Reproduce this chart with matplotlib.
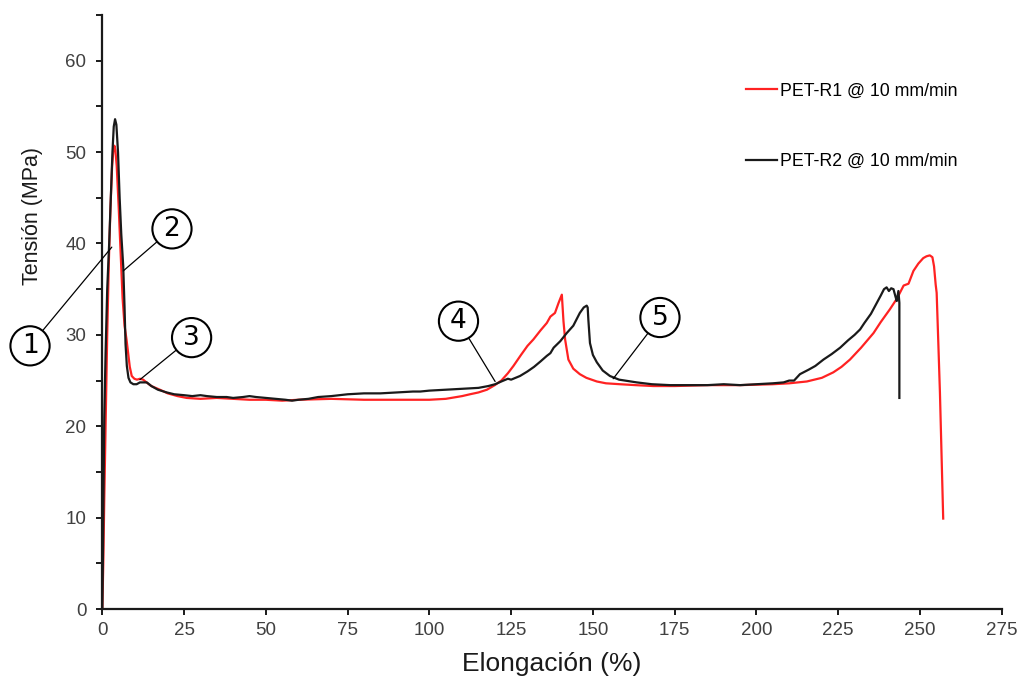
import matplotlib
matplotlib.use("Agg")
import matplotlib.pyplot as plt
from matplotlib.ticker import MultipleLocator

plt.rcParams['font.family'] = ['Liberation Sans', 'DejaVu Sans']

# PET-R1 @ 10 mm/min (elongation %, stress MPa)
r1_elong = [0, 0.3, 0.6, 1.0, 1.5, 2.0, 2.5, 3.0, 3.4, 3.7, 4.0, 4.4, 5.0, 5.6, 6.2,
            6.8, 7.4, 7.9, 8.4, 9.0, 9.8, 10.6, 11.5, 12.5, 13.5, 15, 17.6, 20, 23,
            25.8, 30, 35, 40, 45, 50, 55, 60, 70, 80, 90, 100, 105, 110, 112.4, 115,
            117.6, 120, 122, 124, 125.7, 128, 130, 131.8, 134, 135.9, 137, 138.4,
            139.5, 140.5, 141.0, 141.5, 142.5, 144, 146, 148, 151.2, 154, 158.3, 163,
            168.5, 175, 185, 195, 205, 210, 215.4, 220, 223.5, 226, 228.6, 232, 235.8,
            238, 240.8, 243, 245, 246.5, 248, 249.5, 251, 252, 253, 253.8, 254.3,
            254.8, 255.1, 255.6, 256.1, 256.6, 257.1]
r1_stress = [0, 5, 12, 20, 30, 38, 44, 48.5, 50.3, 50.7, 50.2, 48.5, 44, 39, 34,
             31, 29.5, 28, 26.5, 25.5, 25.2, 25.1, 25.2, 25.1, 24.8, 24.4, 24.0, 23.6,
             23.3, 23.1, 23.0, 23.1, 23.0, 22.9, 22.9, 22.8, 22.9, 23.0, 22.9, 22.9,
             22.9, 23.0, 23.3, 23.5, 23.7, 24.0, 24.5, 25.0, 25.8, 26.6, 27.8, 28.8,
             29.5, 30.5, 31.3, 32.0, 32.4, 33.5, 34.4, 31.5, 29.5, 27.3, 26.3, 25.7,
             25.3, 24.9, 24.7, 24.6, 24.5, 24.4, 24.4, 24.5, 24.5, 24.6, 24.7, 24.9,
             25.3, 25.9, 26.5, 27.3, 28.6, 30.2, 31.4, 32.8, 34.0, 35.4, 35.6, 37.0,
             37.8, 38.4, 38.6, 38.7, 38.5, 37.5, 35.5, 34.6, 29.2, 23.7, 16.8, 9.9]

# PET-R2 @ 10 mm/min
r2_elong = [0, 0.2, 0.4, 0.6, 1.0, 1.5, 2.1, 2.6, 3.1, 3.5, 3.9, 4.3, 4.8, 5.3, 5.8,
            6.4, 6.8, 7.1, 7.5, 8.0, 8.6, 9.5, 10.5, 11.5, 13.6, 15, 17, 19.7, 22, 25,
            27.5, 30, 32, 35, 38, 40, 43, 45, 47, 50, 53, 56, 58, 60, 63, 66, 70, 75,
            80, 85, 90, 95, 97.2, 100, 105, 110, 115, 118, 120.1, 122, 124, 125,
            127.7, 130, 132, 134, 135.9, 137, 138, 140, 142, 144, 146, 147.2, 148.1,
            148.4, 148.6, 149.1, 150, 151.2, 153, 155.2, 158, 163.4, 168, 173.6, 180,
            185, 190, 195, 200, 205, 208.3, 210, 211.5, 213.3, 216, 218, 220.5, 223,
            225.6, 228, 230, 231.7, 233, 235, 236.8, 238, 239, 239.8, 240.5, 241.2,
            241.9, 242.5, 242.9, 243.4, 243.7, 243.7]
r2_stress = [0, 6, 14, 21, 28, 35, 40, 45, 50, 52.8, 53.6, 53.0, 50, 45, 41, 37.5,
             33, 29, 26.6, 25.3, 24.8, 24.6, 24.6, 24.8, 24.8, 24.4, 24.0, 23.7, 23.5,
             23.4, 23.3, 23.4, 23.3, 23.2, 23.2, 23.1, 23.2, 23.3, 23.2, 23.1, 23.0,
             22.9, 22.8, 22.9, 23.0, 23.2, 23.3, 23.5, 23.6, 23.6, 23.7, 23.8, 23.8,
             23.9, 24.0, 24.1, 24.2, 24.4, 24.6, 24.9, 25.2, 25.1, 25.5, 26.0, 26.5,
             27.1, 27.7, 28.0, 28.6, 29.3, 30.2, 31.0, 32.4, 33.0, 33.2, 33.0, 31.7,
             29.1, 27.8, 27.0, 26.1, 25.5, 25.1, 24.8, 24.6, 24.5, 24.5, 24.5, 24.6,
             24.5, 24.6, 24.7, 24.8, 25.0, 25.0, 25.7, 26.2, 26.6, 27.3, 27.9, 28.6,
             29.4, 30.0, 30.6, 31.3, 32.3, 33.5, 34.3, 35.0, 35.2, 34.8, 35.1, 35.0,
             34.2, 33.7, 34.8, 33.5, 23.1]

# numbered markers: (label, circle centre, point on the curve)
marker_labels = ['1', '2', '3', '4', '5']
marker_centres = [(-22.1, 28.8), (21.3, 41.6), (27.3, 29.7), (108.9, 31.5), (170.5, 31.9)]
marker_targets = [(2.9, 39.6), (6.4, 37.0), (11.5, 25.1), (120.1, 24.9), (156.2, 25.2)]

x_ticks = list(range(0, 276, 25))
y_ticks = list(range(0, 61, 10))

fig = plt.figure(figsize=(10.17, 6.77), dpi=100)
ax = fig.add_axes([0.1006, 0.1004, 0.8844, 0.8774])

l1, = ax.plot(r1_elong, r1_stress, color='#ff2222', lw=1.6, label='PET-R1 @ 10 mm/min')
l2, = ax.plot(r2_elong, r2_stress, color='#1a1a1a', lw=1.6, label='PET-R2 @ 10 mm/min')

for lab, c, t in zip(marker_labels, marker_centres, marker_targets):
    ax.annotate(lab, xy=t, xytext=c, ha='center', va='center', fontsize=19,
                family='DejaVu Sans', color='black',
                bbox=dict(boxstyle='circle,pad=0.25', fc='white', ec='black', lw=1.5),
                arrowprops=dict(arrowstyle='-', color='black', lw=0.9, shrinkA=0, shrinkB=0),
                annotation_clip=False)

ax.set_xlim(0, 275)
ax.set_ylim(0, 65)
ax.set_xticks(x_ticks)
ax.set_yticks(y_ticks)
ax.yaxis.set_minor_locator(MultipleLocator(5))

for s in ['top', 'right']:
    ax.spines[s].set_visible(False)
for s in ['left', 'bottom']:
    ax.spines[s].set_linewidth(1.6)
    ax.spines[s].set_color('#1a1a1a')

ax.tick_params(which='both', direction='out', width=1.4, length=4.5, color='#1a1a1a',
               labelsize=13.5, labelcolor='#404040')
ax.tick_params(axis='y', which='major', pad=7)
ax.tick_params(axis='x', which='major', pad=5)

ax.set_xlabel('Elongación (%)', fontsize=19, color='#1a1a1a', labelpad=9)
ax.set_ylabel('Tensión (MPa)', fontsize=15.5, color='#1a1a1a')
ax.yaxis.set_label_coords(-0.066, 0.662)

fig.legend(handles=[l1, l2], loc='upper left', bbox_to_anchor=(0.734, 0.878),
           frameon=False, fontsize=12.8, handlelength=1.69, handletextpad=0.17,
           labelspacing=3.0, borderpad=0, borderaxespad=0)

fig.savefig('out.png', dpi=100, facecolor='white')
